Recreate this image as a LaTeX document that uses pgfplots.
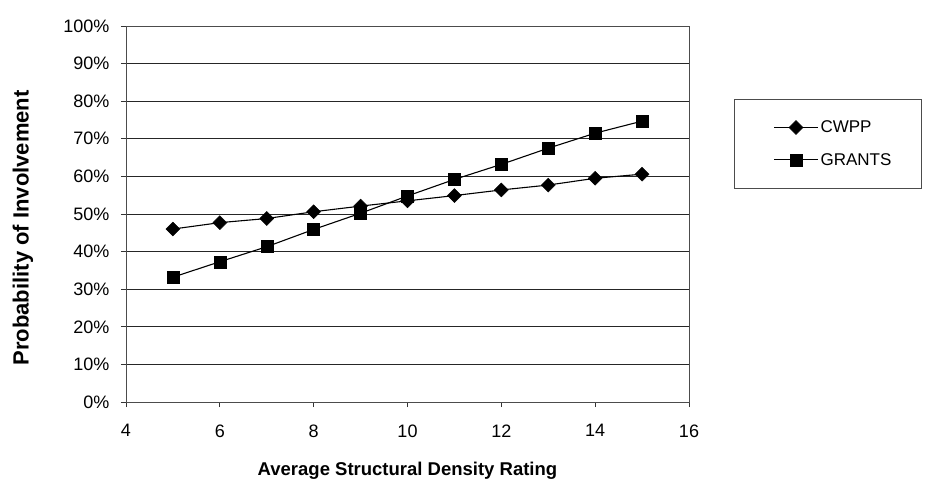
\documentclass[border=0pt]{standalone}
\usepackage{pgfplots}
\pgfplotsset{compat=1.18}
\usepackage{fontspec}
\setmainfont{Liberation Sans}
\begin{document}
\begin{tikzpicture}[x=1pt,y=1pt]
\useasboundingbox (0,0) rectangle (931,483);
\begin{axis}[
  at={(126pt,81pt)}, anchor=south west,
  scale only axis, width=563pt, height=376pt,
  xmin=4, xmax=16, ymin=0, ymax=100,
  xtick={4,6,...,16}, ytick={0,10,...,100},
  yticklabel={\pgfmathprintnumber{\tick}\%},
  /pgf/number format/assume math mode=true,
  ymajorgrids, grid style={black!85, line width=0.8pt},
  axis line style={black!70, line width=0.8pt},
  tick align=outside, major tick length=5pt,
  tick style={black!80, line width=0.7pt},
  xtick pos=bottom, ytick pos=left,
  ticklabel style={font=\fontsize{18}{20}\selectfont},
  xticklabel style={yshift=-14pt},
  yticklabel style={xshift=-8pt},
  xlabel={\textbf{Average Structural Density Rating}},
  ylabel={\textbf{Probability of Involvement}},
  every axis x label/.style={at={(axis description cs:0.5,-0.1835)}, anchor=center, font=\fontsize{18.5}{20}\selectfont},
  every axis y label/.style={at={(axis description cs:-0.183,0.463)}, rotate=90, anchor=center, font=\fontsize{22}{24}\selectfont},
  legend image code/.code={\path (0pt,0pt); \draw[mark repeat=2, mark phase=2, #1] plot coordinates {(11pt,0pt) (33pt,0pt) (55pt,0pt)};},
  legend style={at={(1.08,0.806)}, anchor=north west, draw=black!70, line width=0.8pt,
    font=\fontsize{17}{19}\selectfont,
    row sep=15pt, inner ysep=19.5pt, inner xsep=28pt, cells={anchor=west}},
  legend cell align=left,
]
\addplot[black, line width=1.1pt, mark=square*, mark size=4.9pt, mark options={fill=black, rotate=45, line width=0.5pt}]
coordinates {(5,46.0) (6,47.7) (7,48.8) (8,50.6) (9,52.1) (10,53.5) (11,54.9) (12,56.4) (13,57.7) (14,59.5) (15,60.6)};
\addlegendentry{CWPP}
\addplot[black, line width=1.1pt, mark=square*, mark size=6pt, mark options={fill=black, line width=0.5pt}]
coordinates {(5,33.2) (6,37.3) (7,41.3) (8,45.9) (9,50.2) (10,54.8) (11,59.2) (12,63.2) (13,67.5) (14,71.5) (15,74.7)};
\addlegendentry{GRANTS}
\end{axis}
\end{tikzpicture}
\end{document}
